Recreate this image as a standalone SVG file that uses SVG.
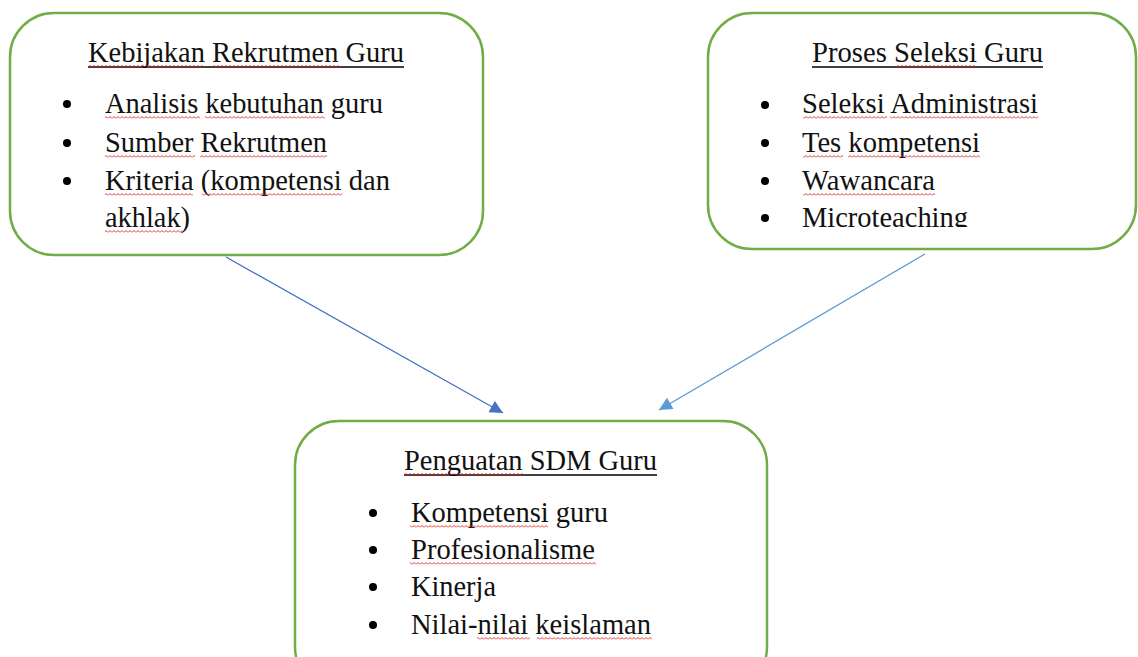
<svg xmlns="http://www.w3.org/2000/svg" width="1138" height="657" viewBox="0 0 1138 657">
  <style>
    .box { fill: #ffffff; stroke: #70AD47; stroke-width: 2.5; }
    text { font-family: 'Liberation Serif', 'Times New Roman', Times, serif; font-size: 28.5px; fill: #111111; }
    .ul { stroke: #000000; stroke-width: 1.3; }
    .dot { fill: #000000; }
    .sq { fill: url(#wavy); }
  </style>
  <defs>
    <pattern id="wavy" patternUnits="userSpaceOnUse" width="4" height="3">
      <path d="M0,2.5 L2,0.5 L4,2.5" fill="none" stroke="#E0201B" stroke-width="0.9"/>
    </pattern>
    <marker id="ah1" viewBox="0 0 10 10" refX="10" refY="5" markerWidth="15" markerHeight="13" markerUnits="userSpaceOnUse" orient="auto">
      <path d="M0,0 L10,5 L0,10 z" fill="#4472C4"/>
    </marker>
    <marker id="ah2" viewBox="0 0 10 10" refX="10" refY="5" markerWidth="15" markerHeight="13" markerUnits="userSpaceOnUse" orient="auto">
      <path d="M0,0 L10,5 L0,10 z" fill="#5B9BD5"/>
    </marker>
    <clipPath id="clip2">
      <rect x="700" y="0" width="438" height="227"/>
    </clipPath>
  </defs>

  <g id="connectors">
    <line x1="226" y1="257" x2="503" y2="413" stroke="#4472C4" stroke-width="1.3" marker-end="url(#ah1)"/>
    <line x1="925" y1="254" x2="659" y2="410" stroke="#5B9BD5" stroke-width="1.3" marker-end="url(#ah2)"/>
  </g>

  <g id="node-kebijakan" font-family="Liberation Serif, serif">
    <rect class="box" x="10" y="13" width="473" height="242" rx="44" ry="44"/>
    <text x="88" y="62" textLength="316" lengthAdjust="spacingAndGlyphs">Kebijakan Rekrutmen Guru</text>
    <line class="ul" x1="88" y1="67" x2="404" y2="67"/>
    <rect class="sq" x="88" y="0" width="115" height="3" transform="translate(0,65)"/>
    <rect class="sq" x="212" y="0" width="128" height="3" transform="translate(0,65)"/>
    <circle class="dot" cx="67" cy="104" r="4"/>
    <circle class="dot" cx="67" cy="143" r="4"/>
    <circle class="dot" cx="67" cy="181" r="4"/>
    <text x="105" y="113" textLength="278" lengthAdjust="spacingAndGlyphs">Analisis kebutuhan guru</text>
    <text x="105" y="152" textLength="222" lengthAdjust="spacingAndGlyphs">Sumber Rekrutmen</text>
    <text x="105" y="190" textLength="285" lengthAdjust="spacingAndGlyphs">Kriteria (kompetensi dan</text>
    <text x="105" y="227" textLength="85" lengthAdjust="spacingAndGlyphs">akhlak)</text>
    <rect class="sq" x="105" y="0" width="95" height="3" transform="translate(0,116)"/>
    <rect class="sq" x="205" y="0" width="120" height="3" transform="translate(0,116)"/>
    <rect class="sq" x="105" y="0" width="90" height="3" transform="translate(0,155)"/>
    <rect class="sq" x="200" y="0" width="127" height="3" transform="translate(0,155)"/>
    <rect class="sq" x="105" y="0" width="88" height="3" transform="translate(0,193)"/>
    <rect class="sq" x="202" y="0" width="140" height="3" transform="translate(0,193)"/>
    <rect class="sq" x="105" y="0" width="77" height="3" transform="translate(0,230)"/>
  </g>

  <g id="node-proses">
    <rect class="box" x="708" y="13" width="428" height="236" rx="44" ry="44"/>
    <text x="812" y="62" textLength="231" lengthAdjust="spacingAndGlyphs">Proses Seleksi Guru</text>
    <line class="ul" x1="812" y1="67" x2="1043" y2="67"/>
    <rect class="sq" x="895" y="0" width="82" height="3" transform="translate(0,65)"/>
    <circle class="dot" cx="765" cy="105" r="4"/>
    <circle class="dot" cx="765" cy="143" r="4"/>
    <circle class="dot" cx="765" cy="181" r="4"/>
    <circle class="dot" cx="765" cy="218" r="4"/>
    <text x="802" y="113" textLength="236" lengthAdjust="spacingAndGlyphs">Seleksi Administrasi</text>
    <text x="802" y="152" textLength="178" lengthAdjust="spacingAndGlyphs">Tes kompetensi</text>
    <text x="802" y="190" textLength="133" lengthAdjust="spacingAndGlyphs">Wawancara</text>
    <text x="802" y="227" textLength="166" lengthAdjust="spacingAndGlyphs" clip-path="url(#clip2)">Microteaching</text>
    <rect class="sq" x="803" y="0" width="84" height="3" transform="translate(0,116)"/>
    <rect class="sq" x="890" y="0" width="148" height="3" transform="translate(0,116)"/>
    <rect class="sq" x="803" y="0" width="40" height="3" transform="translate(0,155)"/>
    <rect class="sq" x="848" y="0" width="132" height="3" transform="translate(0,155)"/>
    <rect class="sq" x="803" y="0" width="132" height="3" transform="translate(0,193)"/>
  </g>

  <g id="node-penguatan">
    <rect class="box" x="295" y="421" width="472" height="270" rx="44" ry="44"/>
    <text x="404" y="470" textLength="253" lengthAdjust="spacingAndGlyphs">Penguatan SDM Guru</text>
    <line class="ul" x1="404" y1="475" x2="657" y2="475"/>
    <rect class="sq" x="404" y="0" width="119" height="3" transform="translate(0,473)"/>
    <circle class="dot" cx="373" cy="513" r="4"/>
    <circle class="dot" cx="373" cy="550" r="4"/>
    <circle class="dot" cx="373" cy="587" r="4"/>
    <circle class="dot" cx="373" cy="625" r="4"/>
    <text x="411" y="522" textLength="197" lengthAdjust="spacingAndGlyphs">Kompetensi guru</text>
    <text x="411" y="559" textLength="184" lengthAdjust="spacingAndGlyphs">Profesionalisme</text>
    <text x="411" y="596" textLength="85" lengthAdjust="spacingAndGlyphs">Kinerja</text>
    <text x="411" y="634" textLength="240" lengthAdjust="spacingAndGlyphs">Nilai-nilai keislaman</text>
    <rect class="sq" x="410" y="0" width="138" height="3" transform="translate(0,525)"/>
    <rect class="sq" x="410" y="0" width="186" height="3" transform="translate(0,562)"/>
    <rect class="sq" x="477" y="0" width="53" height="3" transform="translate(0,637)"/>
    <rect class="sq" x="537" y="0" width="115" height="3" transform="translate(0,637)"/>
  </g>
</svg>
